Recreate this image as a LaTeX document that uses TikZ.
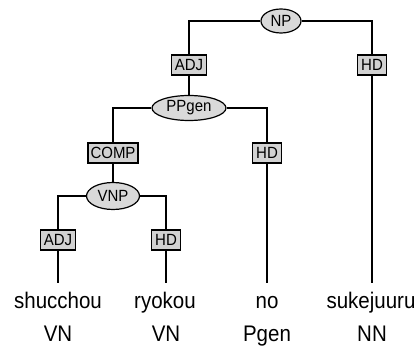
\documentclass[tikz,border=0pt]{standalone}
\usepackage{graphicx}
\usepackage{fontspec}
\setmainfont{Liberation Sans}
\usetikzlibrary{shapes.geometric}
\newcommand\tl[1]{\scalebox{1}[1.08]{#1}}
\newcommand\tw[1]{\scalebox{1}[1.1]{#1}}
\begin{document}
\begin{tikzpicture}[x=1pt,y=-1pt,
  phr/.style={ellipse, draw=black, line width=1.2pt, fill=gray!30, inner sep=0pt,
    font=\fontsize{15}{17}\selectfont},
  fn/.style={rectangle, draw=black, line width=1.2pt, fill=gray!35, inner sep=0pt,
    minimum height=20pt, font=\fontsize{15}{17}\selectfont},
  edge/.style={line width=1.3pt},
  wd/.style={anchor=base, inner sep=0pt, font=\fontsize{20.5}{24}\selectfont}]
\useasboundingbox (0,0) rectangle (417,347);
% phrase nodes
\node[phr, minimum width=40pt, minimum height=24pt] (np) at (281,21) {\tl{NP}};
\node[fn, minimum width=35pt] (adj1) at (189,65) {\tl{ADJ}};
\node[fn, minimum width=29pt] (hd1) at (372,65) {\tl{HD}};
\node[phr, minimum width=74pt, minimum height=25pt] (pp) at (189,108) {\tl{PPgen}};
\node[fn, minimum width=50pt] (comp) at (113,153) {\tl{COMP}};
\node[fn, minimum width=29pt] (hd2) at (267,153) {\tl{HD}};
\node[phr, minimum width=53pt, minimum height=27pt] (vnp) at (113,196) {\tl{VNP}};
\node[fn, minimum width=35pt] (adj2) at (58,240) {\tl{ADJ}};
\node[fn, minimum width=29pt] (hd3) at (166,240) {\tl{HD}};
% leaf ends
\coordinate (e1) at (58,283);
\coordinate (e2) at (166,283);
\coordinate (e3) at (267,283);
\coordinate (e4) at (372,283);
% words
\node[wd] (w1) at (58,308) {\tw{shucchou}};
\node[wd] (w2) at (165,308) {\tw{ryokou}};
\node[wd] (w3) at (267,308) {\tw{no}};
\node[wd] (w4) at (371,308) {\tw{sukejuuru}};
\node[wd] (c1) at (58,341) {\tw{VN}};
\node[wd] (c2) at (166,341) {\tw{VN}};
\node[wd] (c3) at (267,341) {\tw{Pgen}};
\node[wd] (c4) at (372,341) {\tw{NN}};
% edges
\draw[edge] (np.west) -| (adj1.north);
\draw[edge] (np.east) -| (hd1.north);
\draw[edge] (hd1.south) -- (e4);
\draw[edge] (adj1.south) -- (pp.north);
\draw[edge] (pp.west) -| (comp.north);
\draw[edge] (pp.east) -| (hd2.north);
\draw[edge] (hd2.south) -- (e3);
\draw[edge] (comp.south) -- (vnp.north);
\draw[edge] (vnp.west) -| (adj2.north);
\draw[edge] (vnp.east) -| (hd3.north);
\draw[edge] (adj2.south) -- (e1);
\draw[edge] (hd3.south) -- (e2);
\end{tikzpicture}
\end{document}
